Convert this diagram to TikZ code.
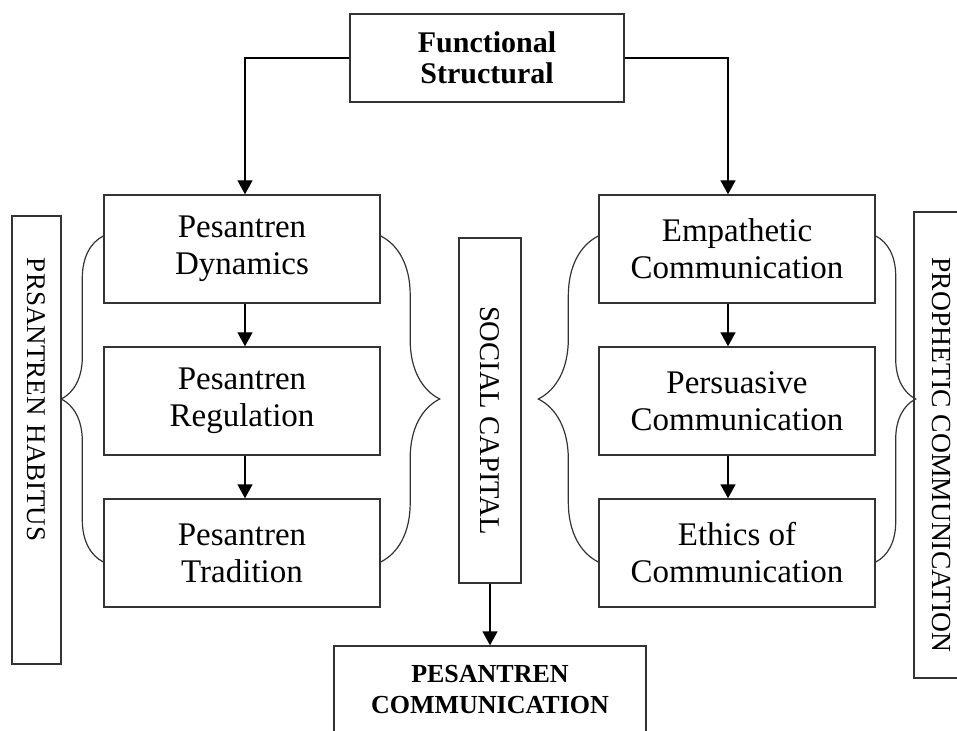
\documentclass[tikz,border=0pt]{standalone}
\usepackage{fontspec}
\setmainfont{Liberation Serif}
\usepackage{tikz}
\usetikzlibrary{arrows.meta, decorations.pathreplacing}
\tikzstyle{topbox} = [rectangle, minimum width=137pt, minimum height=44pt, text centered, align=center,
                      draw=black!80, line width=0.7pt, font=\fontsize{15}{15.5}\selectfont\bfseries]
\tikzstyle{stage} = [rectangle, minimum width=138pt, minimum height=54pt, text centered, align=center,
                     draw=black!80, line width=0.7pt, font=\fontsize{16.5}{18.5}\selectfont]
\tikzstyle{pillar} = [rectangle, rotate=-90, draw=black!80, line width=0.7pt, font=\fontsize{13.5}{16}\selectfont]
\tikzstyle{arrow} = [line width=0.7pt, -{Triangle[length=7pt,width=7.5pt]}]
\tikzset{bracket/.style={line width=0.6pt, black!80, decorate, decoration={brace, amplitude=#1}}}

\begin{document}
\begin{tikzpicture}[x=0.5pt, y=-0.5pt, node distance=76pt]
\useasboundingbox (0,0) rectangle (957,731);

\node (top) [topbox] at (487,58) {Functional\\Structural};

\node (dyn) [stage] at (242,249) {Pesantren\\Dynamics};
\node (reg) [stage, below of=dyn] {Pesantren\\Regulation};
\node (trad) [stage, below of=reg] {Pesantren\\Tradition};

\node (emp) [stage] at (737,249) {Empathetic\\Communication};
\node (pers) [stage, below of=emp] {Persuasive\\Communication};
\node (ethics) [stage, below of=pers] {Ethics of\\Communication};

\node (habitus) [pillar, minimum width=224pt, minimum height=24.5pt, inner xsep=0pt, text width=224pt, align=left]
      at (36.5,440) {\hspace*{21pt}PRSANTREN HABITUS};
\node (social) [pillar, minimum width=172.5pt, minimum height=31pt, font=\fontsize{14.3}{16}\selectfont]
      at (490,410.5) {\hspace*{10pt}SOCIAL CAPITAL};
\node (prophetic) [pillar, minimum width=233pt, minimum height=27pt, font=\fontsize{13.8}{16}\selectfont]
      at (941,445) {\hspace*{10pt}PROPHETIC COMMUNICATION};

\node (pcomm) [topbox, minimum width=156pt, font=\fontsize{13}{15.5}\selectfont\bfseries] at (490,690) {PESANTREN\\COMMUNICATION};

\draw [arrow] (top.west) -| ([xshift=1.5pt]dyn.north);
\draw [arrow] (top.east) -| ([xshift=-4.5pt]emp.north);
\draw [arrow] ([xshift=1.5pt]dyn.south) -- ([xshift=1.5pt]reg.north);
\draw [arrow] ([xshift=1.5pt]reg.south) -- ([xshift=1.5pt]trad.north);
\draw [arrow] ([xshift=-4.5pt]emp.south) -- ([xshift=-4.5pt]pers.north);
\draw [arrow] ([xshift=-4.5pt]pers.south) -- ([xshift=-4.5pt]ethics.north);
\draw [arrow] (social) -- (pcomm);

% braces
\draw [bracket=21pt] ([yshift=-4.5pt]trad.west) -- ([yshift=6.5pt]dyn.west);
\draw [bracket=29.5pt] ([yshift=6.5pt]dyn.east) -- ([yshift=-4.5pt]trad.east);
\draw [bracket=30pt] ([yshift=-4.5pt]ethics.west) -- ([yshift=6.5pt]emp.west);
\draw [bracket=20pt] ([yshift=6.5pt]emp.east) -- ([yshift=-4.5pt]ethics.east);

\end{tikzpicture}
\end{document}
